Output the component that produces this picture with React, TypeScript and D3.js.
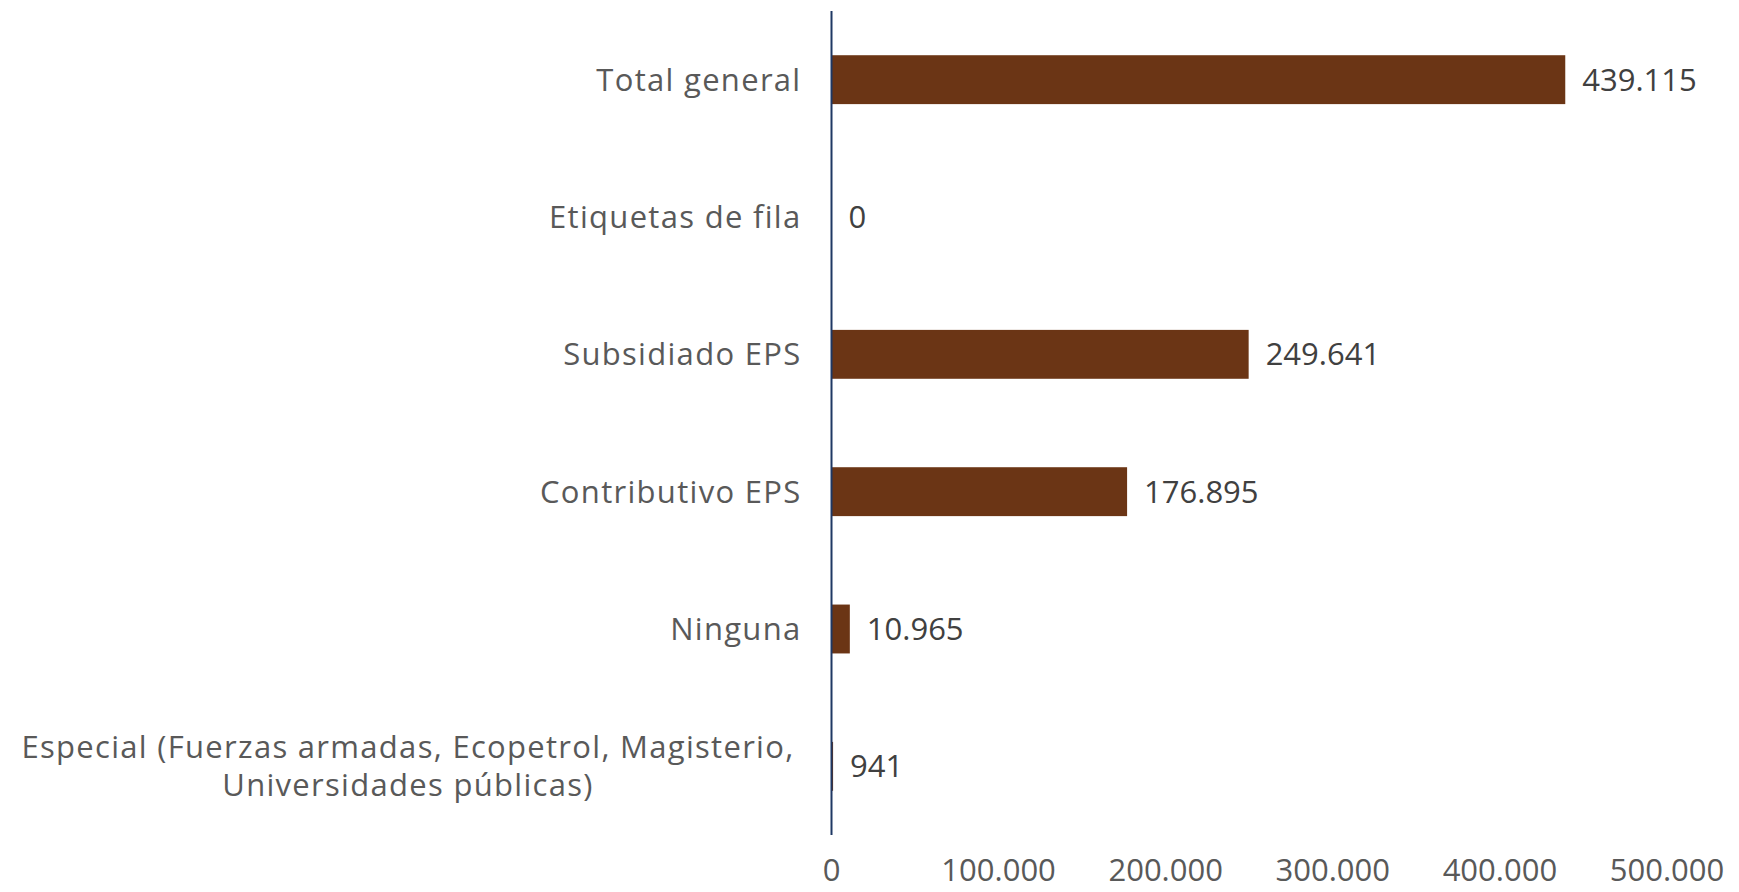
import React from 'react';
import * as d3 from 'd3';

// categories top to bottom, as in the picture
const categories = [
  'Total general',
  'Etiquetas de fila',
  'Subsidiado EPS',
  'Contributivo EPS',
  'Ninguna',
  'Especial (Fuerzas armadas, Ecopetrol, Magisterio,|Universidades públicas)',
];
const values = [439115, 0, 249641, 176895, 10965, 941];
const xTicks = [0, 100000, 200000, 300000, 400000, 500000];

const W = 1739;
const H = 892;
const margin = { top: 11, right: 72, bottom: 57, left: 831.5 };

const locale = d3.formatLocale({ decimal: ',', thousands: '.', grouping: [3], currency: ['$', ''] });
const fmt = locale.format(',d');

const FONT = "'Open Sans', 'DejaVu Sans', sans-serif";
const FS = 31;

export default function App() {
  const x = d3.scaleLinear().domain([0, 500000]).range([margin.left, W - margin.right]);
  const y = d3
    .scaleBand<string>()
    .domain(categories)
    .range([margin.top, H - margin.bottom])
    .paddingInner(0.644)
    .paddingOuter(0.322);

  const axisX = x(0);

  return (
    <svg
      width={W}
      height={H}
      style={{ position: 'absolute', left: 0, top: 0, display: 'block', background: '#fff' }}
      fontFamily={FONT}
    >
      {/* bars */}
      {categories.map((c, i) => (
        <rect
          key={c}
          x={axisX}
          y={y(c)}
          width={Math.max(0, x(values[i]) - axisX)}
          height={y.bandwidth()}
          fill="#6B3515"
        />
      ))}

      {/* value labels */}
      {categories.map((c, i) => (
        <text
          key={'v' + c}
          x={x(values[i]) + 17}
          y={(y(c) as number) + y.bandwidth() / 2}
          dy="0.36em"
          fontSize={FS}
          fill="#404040"
        >
          {fmt(values[i])}
        </text>
      ))}

      {/* category labels */}
      {categories.map((c) => {
        const lines = c.split('|');
        const cy = (y(c) as number) + y.bandwidth() / 2;
        const lh = 38;
        return (
          <text key={'c' + c} y={cy} fontSize={FS} fill="#595959" letterSpacing={1.3}>
            {lines.map((ln, j) => (
              <tspan
                key={j}
                x={lines.length > 1 ? 408 : axisX - 30}
                textAnchor={lines.length > 1 ? 'middle' : 'end'}
                dy={j === 0 ? `${0.36 - ((lines.length - 1) * lh) / 2 / FS}em` : lh}
              >
                {ln}
              </tspan>
            ))}
          </text>
        );
      })}

      {/* x tick labels */}
      {xTicks.map((t) => (
        <text key={t} x={x(t)} y={870} dy="0.36em" textAnchor="middle" fontSize={FS} fill="#595959">
          {fmt(t)}
        </text>
      ))}

      {/* category axis line */}
      <line x1={axisX} x2={axisX} y1={margin.top} y2={H - margin.bottom} stroke="#1F3864" strokeWidth={2} />
    </svg>
  );
}
